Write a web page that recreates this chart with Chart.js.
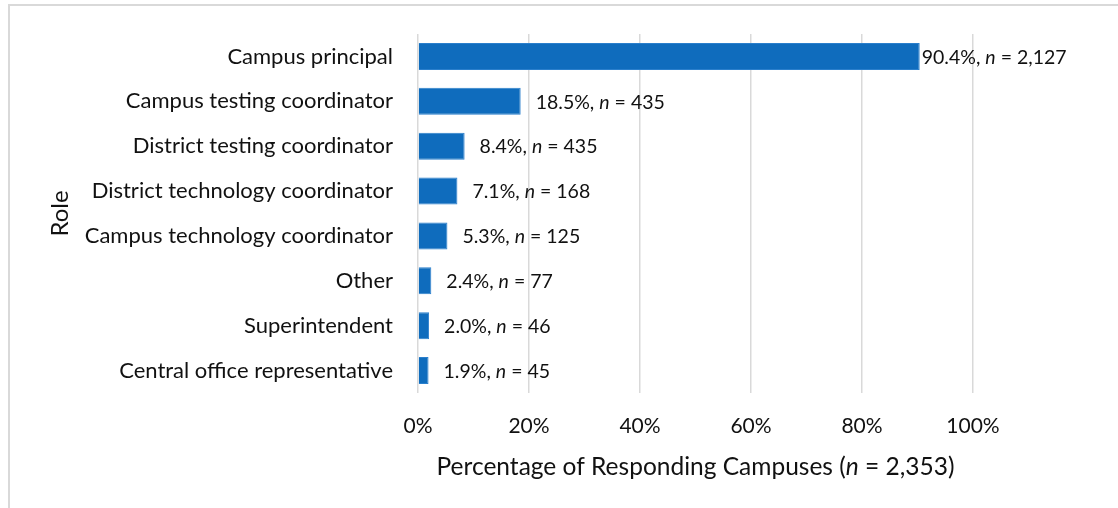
<!DOCTYPE html>
<html>
<head>
<meta charset="utf-8">
<script src="https://cdn.jsdelivr.net/npm/chart.js@4.4.1/dist/chart.umd.min.js"></script>
<style>
  html, body { margin:0; padding:0; background:#fff; overflow:hidden; }
  #frame { position:absolute; left:8px; top:4px; width:1200px; height:600px; border:2px solid #d9d9d9; }
  #wrap { position:absolute; left:0; top:0; width:1118px; height:508px; }
</style>
</head>
<body>
<div id="frame"></div>
<div id="wrap"><canvas id="chart" width="1118" height="508"></canvas></div>
<script>
const roles = [
  'Campus principal',
  'Campus testing coordinator',
  'District testing coordinator',
  'District technology coordinator',
  'Campus technology coordinator',
  'Other',
  'Superintendent',
  'Central office representative'
];
const percents = [90.4, 18.5, 8.4, 7.1, 5.3, 2.4, 2.0, 1.9];
const counts = [2127, 435, 435, 168, 125, 77, 46, 45];
const xTicks = [0, 20, 40, 60, 80, 100];

const FONT = 'Lato, "Open Sans", sans-serif';
const TEXT = '#111';

// labels to the right of each bar: "90.4%, n = 2,127" with italic n
const barLabels = {
  id: 'barLabels',
  afterDatasetsDraw(chart){
    const ctx = chart.ctx;
    const meta = chart.getDatasetMeta(0);
    ctx.save();
    ctx.fillStyle = TEXT;
    ctx.textBaseline = 'middle';
    ctx.textAlign = 'left';
    meta.data.forEach((bar, i) => {
      const gap = i === 0 ? 2 : 15;
      let x = bar.x + gap;
      const y = bar.y + 1;
      const parts = [
        [percents[i].toFixed(1) + '%, ', 'normal'],
        ['n', 'italic'],
        [' = ' + counts[i].toLocaleString('en-US'), 'normal']
      ];
      parts.forEach(([t, st]) => {
        ctx.font = `${st} 19.5px ${FONT}`;
        ctx.fillText(t, x, y);
        x += ctx.measureText(t).width;
      });
    });
    ctx.restore();
  }
};

// x axis title with italic n
const xTitle = {
  id: 'xTitle',
  afterDraw(chart){
    const ctx = chart.ctx;
    const area = chart.chartArea;
    const parts = [
      ['Percentage of Responding Campuses (', 'normal'],
      ['n', 'italic'],
      [' = 2,353)', 'normal']
    ];
    ctx.save();
    ctx.fillStyle = TEXT;
    ctx.textBaseline = 'middle';
    let total = 0;
    parts.forEach(([t, st]) => { ctx.font = `${st} 24.5px ${FONT}`; total += ctx.measureText(t).width; });
    let x = (area.left + area.right) / 2 - total / 2;
    parts.forEach(([t, st]) => {
      ctx.font = `${st} 24.5px ${FONT}`;
      ctx.fillText(t, x, 467);
      x += ctx.measureText(t).width;
    });
    ctx.restore();
  }
};

new Chart(document.getElementById('chart'), {
  type: 'bar',
  data: {
    labels: roles,
    datasets: [{
      data: percents,
      backgroundColor: '#0f6cbd',
      borderColor: '#2a7fcc',
      borderWidth: 1,
      barPercentage: 0.6,
      categoryPercentage: 1.0
    }]
  },
  options: {
    indexAxis: 'y',
    responsive: false,
    animation: false,
    layout: { padding: { left: 36, right: 145, top: 34, bottom: 69 } },
    plugins: { legend: { display: false }, tooltip: { enabled: false } },
    scales: {
      x: {
        min: 0, max: 100,
        afterBuildTicks(scale){ scale.ticks = xTicks.map(v => ({ value: v })); },
        afterFit(scale){ scale.height = 46; scale.paddingLeft = 0; scale.paddingRight = 0; },
        grid: { color: '#d9d9d9', lineWidth: 1.5, drawTicks: false },
        border: { display: false },
        ticks: {
          padding: 21,
          maxRotation: 0,
          color: TEXT,
          font: { family: FONT, size: 21 },
          callback: v => v + '%'
        }
      },
      y: {
        afterFit(scale){ scale.width = 382; scale.paddingTop = 0; scale.paddingBottom = 0; },
        grid: { display: false, drawTicks: false },
        border: { display: false },
        ticks: {
          padding: 25,
          color: TEXT,
          font: { family: FONT, size: 22 }
        },
        title: {
          display: true,
          text: 'Role',
          color: TEXT,
          font: { family: FONT, size: 24 },
          padding: { top: 10, bottom: 0 }
        }
      }
    }
  },
  plugins: [barLabels, xTitle]
});
</script>
</body>
</html>
